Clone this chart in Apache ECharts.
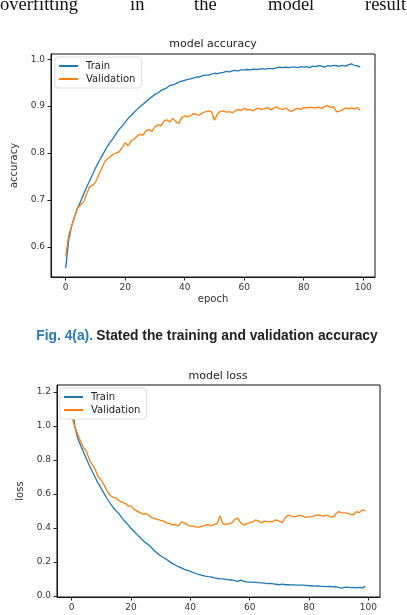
<!DOCTYPE html>
<html>
<head>
<meta charset="utf-8">
<script src="https://cdn.jsdelivr.net/npm/echarts@6/dist/echarts.min.js"></script>
<style>
  html, body { margin: 0; padding: 0; background: #fff; }
  #chart { width: 407px; height: 615px; }
</style>
</head>
<body>
<div id="chart"></div>
<script>
// values, epochs 0..99
const trainAcc = [
  0.555, 0.615, 0.645, 0.665, 0.683, 0.697, 0.712, 0.727, 0.740, 0.754,
  0.768, 0.780, 0.792, 0.803, 0.814, 0.824, 0.832, 0.842, 0.851, 0.858,
  0.866, 0.874, 0.880, 0.887, 0.893, 0.899, 0.904, 0.910, 0.915, 0.920,
  0.925, 0.928, 0.933, 0.936, 0.939, 0.944, 0.945, 0.948, 0.951, 0.953,
  0.955, 0.957, 0.958, 0.960, 0.962, 0.962, 0.965, 0.966, 0.966, 0.968,
  0.970, 0.969, 0.971, 0.972, 0.974, 0.973, 0.975, 0.976, 0.975, 0.977,
  0.977, 0.978, 0.977, 0.979, 0.978, 0.979, 0.980, 0.979, 0.980, 0.980,
  0.980, 0.982, 0.983, 0.982, 0.983, 0.982, 0.983, 0.983, 0.982, 0.984,
  0.983, 0.984, 0.982, 0.985, 0.984, 0.986, 0.985, 0.983, 0.986, 0.985,
  0.987, 0.986, 0.985, 0.987, 0.985, 0.988, 0.990, 0.987, 0.986, 0.983
];
const valAcc = [
  0.580, 0.625, 0.645, 0.665, 0.683, 0.690, 0.696, 0.712, 0.728, 0.731,
  0.738, 0.752, 0.766, 0.780, 0.788, 0.792, 0.798, 0.800, 0.803, 0.812,
  0.822, 0.815, 0.826, 0.830, 0.836, 0.840, 0.838, 0.848, 0.850, 0.846,
  0.856, 0.860, 0.858, 0.868, 0.871, 0.866, 0.874, 0.867, 0.863, 0.876,
  0.879, 0.877, 0.880, 0.884, 0.882, 0.881, 0.886, 0.888, 0.890, 0.888,
  0.870, 0.883, 0.889, 0.890, 0.887, 0.888, 0.886, 0.890, 0.893, 0.891,
  0.895, 0.892, 0.893, 0.890, 0.894, 0.895, 0.893, 0.895, 0.897, 0.892,
  0.896, 0.898, 0.894, 0.893, 0.896, 0.891, 0.889, 0.893, 0.895, 0.893,
  0.897, 0.896, 0.898, 0.897, 0.896, 0.898, 0.895, 0.899, 0.901, 0.897,
  0.899, 0.888, 0.889, 0.892, 0.896, 0.894, 0.896, 0.894, 0.897, 0.891
];
const trainLoss = [
  1.18, 1.00, 0.93, 0.885, 0.845, 0.805, 0.765, 0.73, 0.695, 0.66,
  0.63, 0.60, 0.57, 0.545, 0.52, 0.50, 0.482, 0.458, 0.438, 0.418,
  0.398, 0.38, 0.362, 0.345, 0.327, 0.312, 0.30, 0.282, 0.264, 0.25,
  0.236, 0.225, 0.215, 0.202, 0.19, 0.182, 0.172, 0.165, 0.156, 0.15,
  0.145, 0.138, 0.131, 0.126, 0.121, 0.117, 0.114, 0.112, 0.106, 0.103,
  0.10, 0.101, 0.098, 0.095, 0.094, 0.09, 0.086, 0.093, 0.086, 0.083,
  0.081, 0.081, 0.08, 0.078, 0.077, 0.075, 0.073, 0.074, 0.071, 0.069,
  0.066, 0.070, 0.066, 0.066, 0.065, 0.065, 0.064, 0.064, 0.064, 0.062,
  0.060, 0.060, 0.058, 0.059, 0.057, 0.056, 0.055, 0.056, 0.053, 0.055,
  0.050, 0.046, 0.050, 0.052, 0.049, 0.051, 0.047, 0.050, 0.048, 0.056
];
const valLoss = [
  1.05, 1.00, 0.95, 0.91, 0.87, 0.85, 0.80, 0.77, 0.74, 0.70,
  0.68, 0.65, 0.615, 0.59, 0.58, 0.575, 0.56, 0.55, 0.545, 0.53,
  0.53, 0.51, 0.50, 0.49, 0.48, 0.485, 0.476, 0.46, 0.455, 0.45,
  0.445, 0.44, 0.43, 0.425, 0.418, 0.42, 0.412, 0.435, 0.43, 0.418,
  0.41, 0.41, 0.405, 0.405, 0.41, 0.415, 0.42, 0.412, 0.42, 0.425,
  0.47, 0.424, 0.42, 0.425, 0.43, 0.45, 0.457, 0.43, 0.418, 0.425,
  0.43, 0.435, 0.447, 0.44, 0.43, 0.44, 0.437, 0.435, 0.44, 0.447,
  0.44, 0.431, 0.46, 0.476, 0.47, 0.465, 0.47, 0.476, 0.468, 0.462,
  0.465, 0.467, 0.472, 0.476, 0.472, 0.47, 0.476, 0.468, 0.463, 0.48,
  0.496, 0.49, 0.488, 0.485, 0.48, 0.476, 0.496, 0.49, 0.506, 0.50
];
const epochTicks = [0, 20, 40, 60, 80, 100];
const accTicks = [0.6, 0.7, 0.8, 0.9, 1.0];
const lossTicks = [0.0, 0.2, 0.4, 0.6, 0.8, 1.0, 1.2];
const seriesNames = ['Train', 'Validation'];
const topWords = ['overfitting', 'in', 'the', 'model', 'result'];

const BLUE = '#1f77b4';
const ORANGE = '#ff7f0e';
const FONT = 'DejaVu Sans';

const toPoints = arr => arr.map((v, i) => [i, v]);

const xAxisFor = (gridIndex, name) => ({
  type: 'value', gridIndex, min: -4.95, max: 103.95,
  name, nameLocation: 'middle', nameGap: 17,
  nameTextStyle: { fontFamily: FONT, fontSize: 10, color: '#333' },
  splitLine: { show: false },
  axisLine: { show: true, onZero: false, lineStyle: { color: '#111', width: 1 } },
  axisTick: { show: true, customValues: epochTicks, length: 3.5, lineStyle: { color: '#222' } },
  axisLabel: { customValues: epochTicks, fontFamily: FONT, fontSize: 9, color: '#333', margin: 6 }
});

const yAxisFor = (gridIndex, name, min, max, ticks) => ({
  type: 'value', gridIndex, min, max,
  name, nameLocation: 'middle', nameGap: 24,
  nameTextStyle: { fontFamily: FONT, fontSize: 10, color: '#333' },
  splitLine: { show: false },
  axisLine: { show: true, onZero: false, lineStyle: { color: '#111', width: 1 } },
  axisTick: { show: true, customValues: ticks, length: 3.5, lineStyle: { color: '#222' } },
  axisLabel: {
    customValues: ticks, fontFamily: FONT, fontSize: 9, color: '#333', margin: 6,
    formatter: v => v.toFixed(1)
  }
});

const lineSeries = (name, data, color, xi) => ({
  name, type: 'line', data: toPoints(data), xAxisIndex: xi, yAxisIndex: xi,
  showSymbol: false, symbol: 'none', lineStyle: { width: 1.3, color },
  itemStyle: { color }, silent: true
});

const legendAt = (left, top) => ({
  data: seriesNames, orient: 'vertical', left, top,
  icon: 'rect', itemWidth: 19, itemHeight: 2, itemGap: 3,
  padding: [4, 6, 4, 4],
  backgroundColor: '#fff', borderColor: '#ddd', borderWidth: 1, borderRadius: 3,
  textStyle: { fontFamily: FONT, fontSize: 10, color: '#222', padding: [0, 0, 0, 3] }
});

const wordX = [0, 130, 194, 268, 365];

const chart = echarts.init(document.getElementById('chart'));
chart.setOption({
  animation: false,
  backgroundColor: '#fff',
  title: [
    { text: 'model accuracy', left: 213, top: 39, textAlign: 'center', padding: 0,
      textStyle: { fontFamily: FONT, fontSize: 11, fontWeight: 'normal', color: '#222' } },
    { text: 'model loss', left: 218, top: 371, textAlign: 'center', padding: 0,
      textStyle: { fontFamily: FONT, fontSize: 11, fontWeight: 'normal', color: '#222' } }
  ],
  legend: [legendAt(55, 57), legendAt(60, 388)],
  grid: [
    { left: 51, top: 54, width: 324, height: 223, show: true, borderColor: '#111', borderWidth: 1, backgroundColor: '#fff' },
    { left: 57, top: 385, width: 323, height: 212, show: true, borderColor: '#111', borderWidth: 1, backgroundColor: '#fff' }
  ],
  xAxis: [xAxisFor(0, 'epoch'), xAxisFor(1, '')],
  yAxis: [
    yAxisFor(0, 'accuracy', 0.536, 1.011, accTicks),
    yAxisFor(1, 'loss', -0.006, 1.24, lossTicks)
  ],
  series: [
    lineSeries('Train', trainAcc, BLUE, 0),
    lineSeries('Validation', valAcc, ORANGE, 0),
    lineSeries('Train', trainLoss, BLUE, 1),
    lineSeries('Validation', valLoss, ORANGE, 1)
  ],
  graphic: [
    ...topWords.map((w, i) => ({
      type: 'text', x: wordX[i], y: 5,
      style: { text: w, font: '18.5px "Liberation Serif"', fill: '#111', verticalAlign: 'middle' }
    })),
    {
      type: 'text', x: 207, y: 336,
      style: {
        text: '{a|Fig. 4(a).} {b|Stated the training and validation accuracy}',
        align: 'center', verticalAlign: 'middle',
        rich: {
          a: { fontFamily: 'Liberation Sans', fontSize: 13.8, fontWeight: 'bold', fill: '#2a7ab5' },
          b: { fontFamily: 'Liberation Sans', fontSize: 13.8, fontWeight: 'bold', fill: '#222' }
        }
      }
    }
  ]
});
</script>
</body>
</html>
